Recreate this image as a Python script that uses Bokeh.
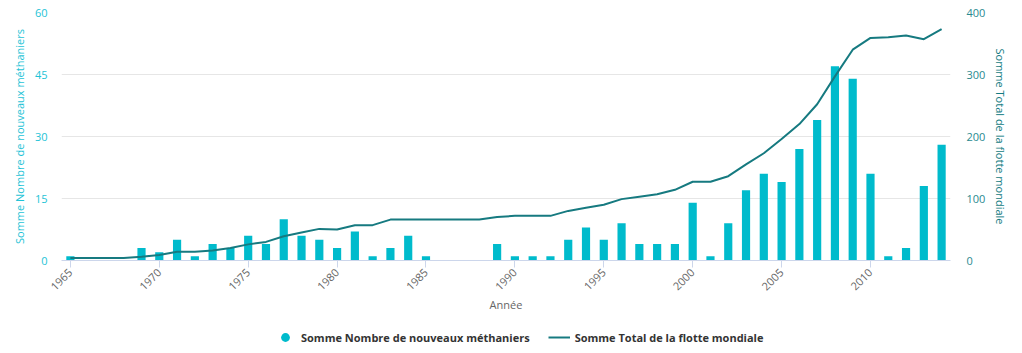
from bokeh.plotting import figure
from bokeh.layouts import column
from bokeh.models import (LinearAxis, Range1d, FixedTicker, Legend, LegendItem,
                          ColumnDataSource)
from bokeh.embed import file_html
from bokeh.resources import INLINE
import math

years = list(range(1965, 2015))
new_carriers = [1, 0, 0, 0, 3, 2, 5, 1, 4, 3,
                6, 4, 10, 6, 5, 3, 7, 1, 3, 6,
                1, 0, 0, 0, 4, 1, 1, 1, 5, 8,
                5, 9, 4, 4, 4, 14, 1, 9, 17, 21,
                19, 27, 34, 47, 44, 21, 1, 3, 18, 28]
fleet_total = [4, 4, 4, 4, 6, 9, 14, 14, 16, 20,
               26, 30, 39, 45, 51, 50, 57, 57, 66, 66,
               66, 66, 66, 66, 70, 72, 72, 72, 80, 85,
               90, 99, 103, 107, 114, 127, 127, 136, 155, 173,
               196, 220, 252, 297, 340, 359, 360, 363, 357, 373]
x_ticks = [1965, 1970, 1975, 1980, 1985, 1990, 1995, 2000, 2005, 2010]
left_ticks = [0, 15, 30, 45, 60]
right_ticks = [0, 100, 200, 300, 400]
series_names = ["Somme Nombre de nouveaux méthaniers",
                "Somme Total de la flotte mondiale"]

BAR = "#00BBCC"
LINE = "#167A80"
FONT = "Open Sans"

src = ColumnDataSource(dict(year=years, n=new_carriers, total=fleet_total))

p = figure(frame_width=889, frame_height=248, output_backend="svg",
           toolbar_location=None,
           x_range=Range1d(1964.5, 2014.5), y_range=Range1d(0, 60),
           min_border_left=61, min_border_right=72, min_border_top=12,
           min_border_bottom=60)
p.extra_y_ranges = {"right": Range1d(0, 400)}
p.outline_line_color = None
p.xgrid.grid_line_color = None
p.ygrid.grid_line_color = "#e6e6e6"
p.ygrid.ticker = FixedTicker(ticks=left_ticks)

bars = p.vbar(x="year", top="n", width=0.46, source=src, fill_color=BAR,
              line_color=None)
line = p.line(x="year", y="total", source=src, line_color=LINE, line_width=2,
              y_range_name="right")

# x axis
xa = p.xaxis[0]
xa.ticker = FixedTicker(ticks=x_ticks)
xa.axis_label = "Année"
xa.axis_label_text_font = FONT
xa.axis_label_text_font_style = "normal"
xa.axis_label_text_font_size = "11px"
xa.axis_label_text_color = "#666666"
xa.axis_label_standoff = 0
xa.major_label_orientation = math.pi / 4
xa.major_label_text_font = FONT
xa.major_label_text_font_size = "11px"
xa.major_label_text_color = "#666666"
xa.major_label_standoff = 3
xa.axis_line_color = "#ccd6eb"
xa.major_tick_line_color = "#ccd6eb"
xa.major_tick_in = 0
xa.major_tick_out = 7
xa.minor_tick_line_color = None

# left axis
ya = p.yaxis[0]
ya.ticker = FixedTicker(ticks=left_ticks)
ya.axis_label = series_names[0]
ya.axis_label_text_font = FONT
ya.axis_label_text_font_style = "normal"
ya.axis_label_text_font_size = "11px"
ya.axis_label_text_color = "#1EC3D6"
ya.major_label_text_font = FONT
ya.major_label_text_font_size = "11px"
ya.major_label_text_color = "#1EC3D6"
ya.axis_line_color = None
ya.major_tick_line_color = None
ya.minor_tick_line_color = None
ya.major_tick_in = 0
ya.major_tick_out = 0
ya.major_label_standoff = 14

ra = LinearAxis(y_range_name="right", ticker=FixedTicker(ticks=right_ticks),
                axis_label=series_names[1])
ra.axis_label_text_font = FONT
ra.axis_label_text_font_style = "normal"
ra.axis_label_text_font_size = "11px"
ra.axis_label_text_color = "#137B82"
ra.major_label_text_font = FONT
ra.major_label_text_font_size = "11px"
ra.major_label_text_color = "#2A8A90"
ra.axis_line_color = None
ra.major_tick_line_color = None
ra.minor_tick_line_color = None
ra.major_tick_in = 0
ra.major_tick_out = 0
ra.major_label_standoff = 16
p.add_layout(ra, "right")

# legend strip (separate small figure so the legend is never clipped)
p2 = figure(width=1022, height=32, output_backend="svg", toolbar_location=None,
            x_range=Range1d(0, 1), y_range=Range1d(0, 1),
            x_axis_type=None, y_axis_type=None,
            min_border_left=0, min_border_right=0, min_border_top=0,
            min_border_bottom=0)
p2.outline_line_color = None
p2.grid.grid_line_color = None
proxy_bar = p2.scatter(x=[0.5], y=[-5], marker="circle", size=13,
                       fill_color=BAR, line_color=None)
proxy_line = p2.line(x=[0.4, 0.6], y=[-5, -5], line_color=LINE, line_width=2)

legend = Legend(items=[
    LegendItem(label=series_names[0], renderers=[proxy_bar]),
    LegendItem(label=series_names[1], renderers=[proxy_line]),
], orientation="horizontal", location=(213, 4))
legend.label_text_font = FONT
legend.label_text_font_size = "11px"
legend.label_text_font_style = "bold"
legend.label_text_color = "#333333"
legend.border_line_color = None
legend.background_fill_alpha = 0
legend.glyph_width = 22
legend.glyph_height = 22
legend.label_height = 22
legend.label_standoff = 5
legend.spacing = 18
legend.padding = 0
legend.margin = 0
p2.add_layout(legend, "center")

layout = column(p, p2, spacing=0)
open("out.html", "w").write(file_html(layout, INLINE))
